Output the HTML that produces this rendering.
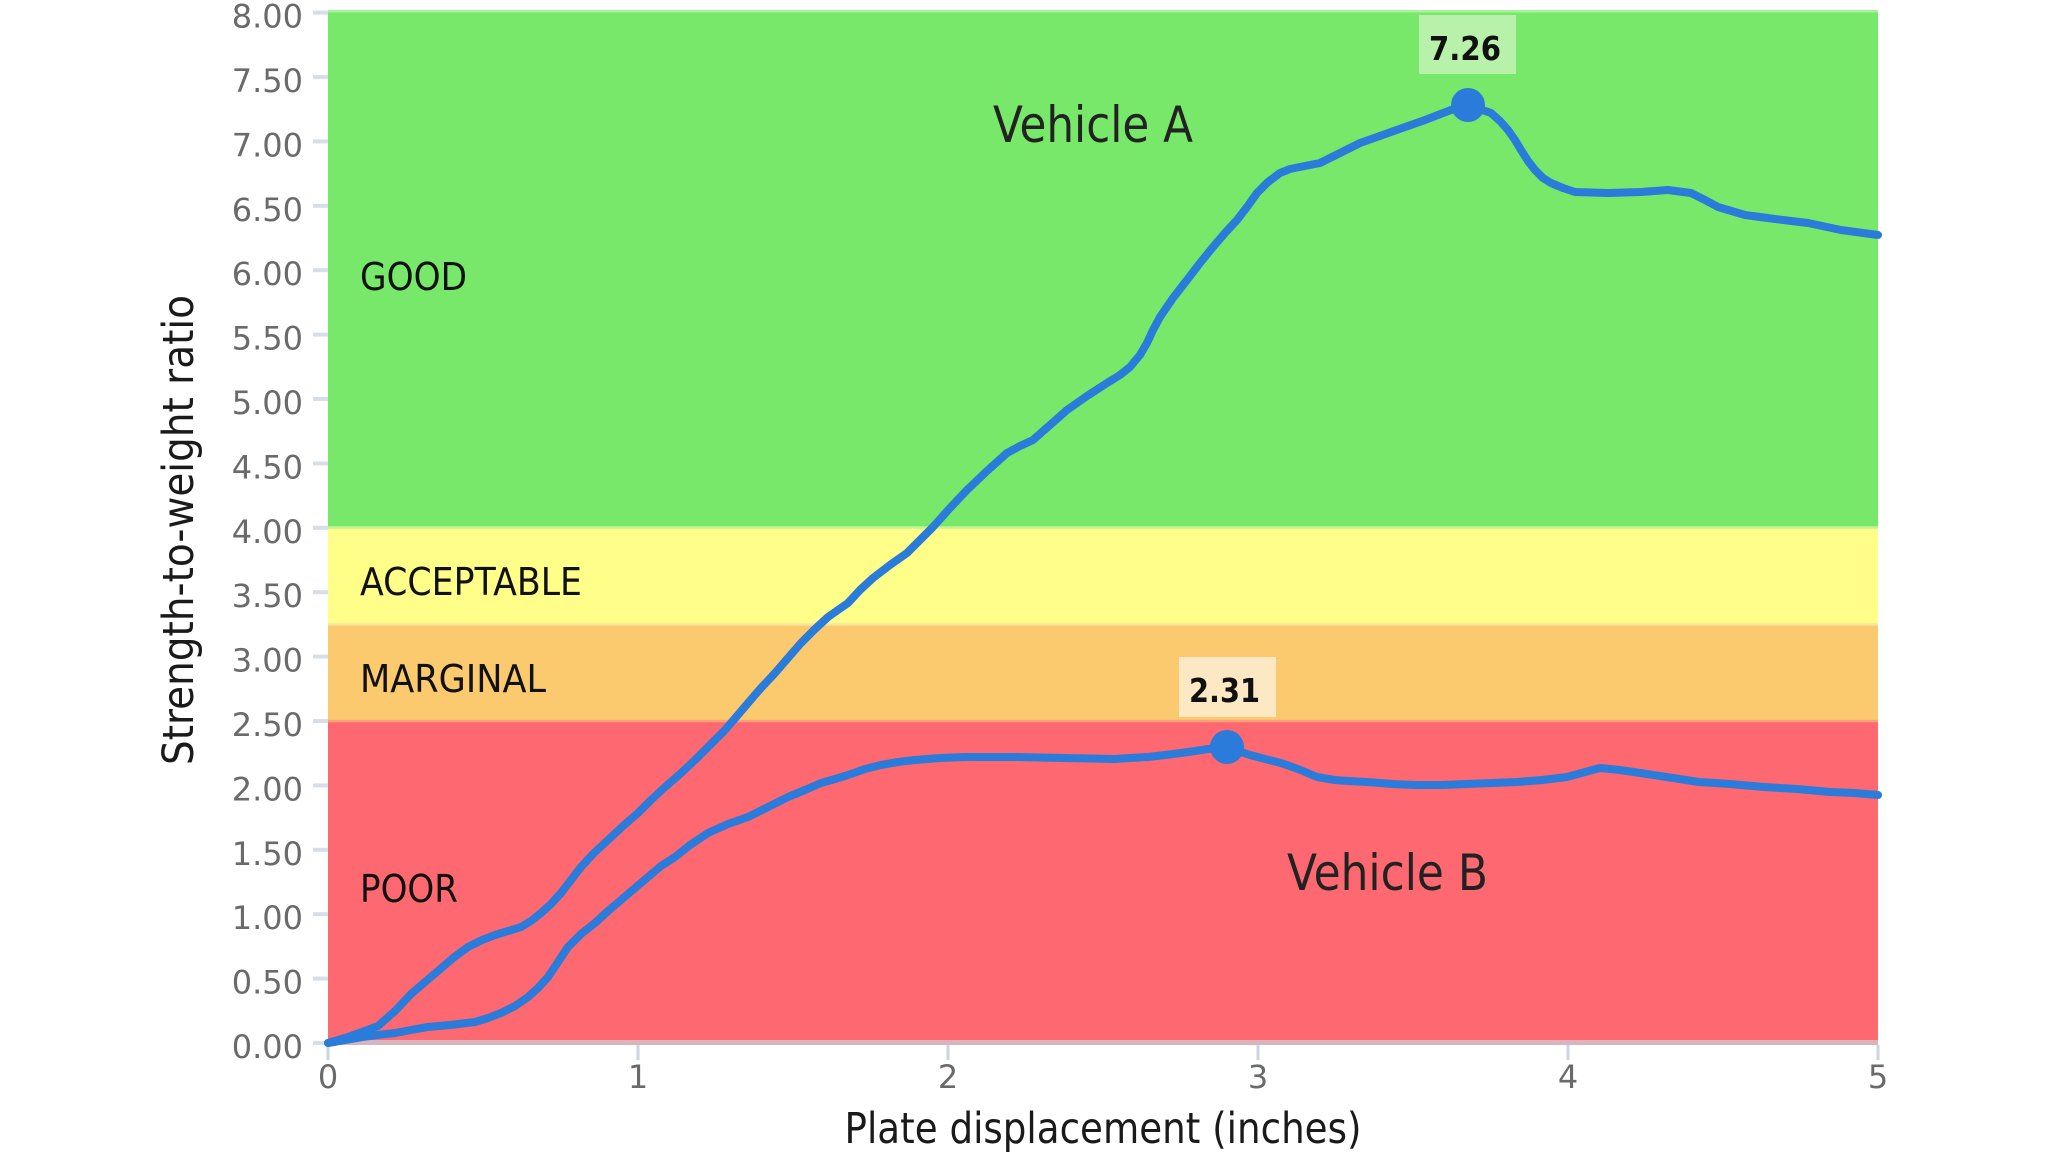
<!DOCTYPE html>
<html>
<head>
<meta charset="utf-8">
<style>
  html, body { margin:0; padding:0; background:#ffffff; }
  svg { display:block; }
  .tick { font-family: "DejaVu Sans", "Liberation Sans", sans-serif; font-size:32px; fill:#6a6a6a; }
  .band { font-family: "DejaVu Sans", "Liberation Sans", sans-serif; font-size:38px; fill:#111111; }
  .veh { font-family: "DejaVu Sans", "Liberation Sans", sans-serif; font-size:50px; fill:#222222; }
  .ann { font-family: "DejaVu Sans", "Liberation Sans", sans-serif; font-size:33px; font-weight:bold; fill:#111111; }
  .axt { font-family: "DejaVu Sans", "Liberation Sans", sans-serif; font-size:43px; fill:#1a1a1a; }
</style>
</head>
<body>
<svg width="2048" height="1152" viewBox="0 0 2048 1152" xmlns="http://www.w3.org/2000/svg">
  <rect x="0" y="0" width="2048" height="1152" fill="#ffffff"/>

  <!-- bands -->
  <rect x="328" y="10" width="1550" height="518" fill="#77e86a"/>
  <rect x="328" y="10" width="1550" height="2.5" fill="#a9f09c"/>
  <rect x="328" y="527.8" width="1550" height="96.6" fill="#fefe88"/>
  <rect x="328" y="624.4" width="1550" height="96.6" fill="#fcca6e"/>
  <rect x="328" y="721" width="1550" height="320" fill="#fe6870"/>
  <!-- band boundary lines -->
  <rect x="328" y="526.3" width="1550" height="2.5" fill="#c6f58f"/>
  <rect x="328" y="623.2" width="1550" height="2.5" fill="#fde49a"/>
  <rect x="328" y="719.8" width="1550" height="2.5" fill="#fca07c"/>
  <!-- x axis line -->
  <rect x="328" y="1040" width="1550" height="5" fill="#d9b4bc"/>

  <!-- y ticks -->
  <g fill="#d6dee7">
    <rect x="313" y="1041" width="15" height="4"/>
    <rect x="313" y="976.6" width="15" height="4"/>
    <rect x="313" y="912.2" width="15" height="4"/>
    <rect x="313" y="847.8" width="15" height="4"/>
    <rect x="313" y="783.4" width="15" height="4"/>
    <rect x="313" y="719" width="15" height="4"/>
    <rect x="313" y="654.6" width="15" height="4"/>
    <rect x="313" y="590.2" width="15" height="4"/>
    <rect x="313" y="525.8" width="15" height="4"/>
    <rect x="313" y="461.4" width="15" height="4"/>
    <rect x="313" y="397" width="15" height="4"/>
    <rect x="313" y="332.6" width="15" height="4"/>
    <rect x="313" y="268.2" width="15" height="4"/>
    <rect x="313" y="203.8" width="15" height="4"/>
    <rect x="313" y="139.4" width="15" height="4"/>
    <rect x="313" y="75" width="15" height="4"/>
    <rect x="313" y="10.6" width="15" height="4"/>
  </g>
  <!-- y tick labels -->
  <g class="tick" text-anchor="end">
    <text x="303" y="1058">0.00</text>
    <text x="303" y="993.6">0.50</text>
    <text x="303" y="929.2">1.00</text>
    <text x="303" y="864.8">1.50</text>
    <text x="303" y="800.4">2.00</text>
    <text x="303" y="736">2.50</text>
    <text x="303" y="671.6">3.00</text>
    <text x="303" y="607.2">3.50</text>
    <text x="303" y="542.8">4.00</text>
    <text x="303" y="478.4">4.50</text>
    <text x="303" y="414">5.00</text>
    <text x="303" y="349.6">5.50</text>
    <text x="303" y="285.2">6.00</text>
    <text x="303" y="220.8">6.50</text>
    <text x="303" y="156.4">7.00</text>
    <text x="303" y="92">7.50</text>
    <text x="303" y="27.6">8.00</text>
  </g>

  <!-- x ticks -->
  <g fill="#c9d5df">
    <rect x="326.5" y="1045" width="3" height="15"/>
    <rect x="636.5" y="1045" width="3" height="15"/>
    <rect x="946.5" y="1045" width="3" height="15"/>
    <rect x="1256.5" y="1045" width="3" height="15"/>
    <rect x="1566.5" y="1045" width="3" height="15"/>
    <rect x="1876.5" y="1045" width="3" height="15"/>
  </g>
  <g class="tick" text-anchor="middle">
    <text x="328" y="1088">0</text>
    <text x="638" y="1088">1</text>
    <text x="948" y="1088">2</text>
    <text x="1258" y="1088">3</text>
    <text x="1568" y="1088">4</text>
    <text x="1878" y="1088">5</text>
  </g>

  <!-- band labels -->
  <text class="band" x="360" y="290" textLength="107" lengthAdjust="spacingAndGlyphs">GOOD</text>
  <text class="band" x="360" y="595" textLength="222" lengthAdjust="spacingAndGlyphs">ACCEPTABLE</text>
  <text class="band" x="360" y="692" textLength="186" lengthAdjust="spacingAndGlyphs">MARGINAL</text>
  <text class="band" x="360" y="902" textLength="98" lengthAdjust="spacingAndGlyphs">POOR</text>

  <!-- vehicle labels -->
  <text class="veh" x="993" y="142" textLength="200" lengthAdjust="spacingAndGlyphs">Vehicle A</text>
  <text class="veh" x="1287" y="890" textLength="201" lengthAdjust="spacingAndGlyphs">Vehicle B</text>

  <!-- curves -->
  <g fill="none" stroke="#2a7bda" stroke-width="8" stroke-linejoin="round" stroke-linecap="round">
    <polyline points="328,1043 345,1038 362,1032 378,1026 395,1011 411,994 425,982 438,971 453,958 468,947 482,940 495,935 508,931 521,927 531,921 541,913 551,904 561,893 571,880 581,867 594,853 608,840 623,826 638,813 651,800 665,787 680,774 695,760 710,745 725,730 737,716 748,703 761,688 775,673 788,658 801,643 815,629 828,617 838,610 848,603 860,590 873,578 890,565 907,553 920,540 933,527 950,508 967,490 987,471 1007,453 1020,446 1033,440 1050,425 1067,410 1087,396 1107,383 1120,375 1130,367 1140,355 1147,343 1153,330 1160,317 1173,298 1187,280 1200,263 1213,247 1225,233 1237,220 1247,207 1257,193 1268,182 1280,173 1290,169 1300,167 1310,165 1320,163 1330,158 1340,153 1350,148 1360,143 1391,132 1425,120 1451,110 1468,105 1491,113 1500,121 1508,130 1515,140 1521,150 1528,161 1535,170 1543,178 1551,183 1563,188 1575,192 1608,193 1641,192 1668,190 1691,193 1705,200 1718,207 1745,215 1775,219 1808,223 1841,230 1878,235"/>
    <polyline points="328,1043 345,1040 362,1037 378,1035 395,1033 411,1030 428,1027 450,1025 475,1022 488,1018 501,1013 515,1006 528,997 538,988 548,977 558,962 568,947 581,934 595,923 608,911 621,900 635,888 648,877 661,866 675,857 690,845 708,833 728,824 748,817 768,807 788,797 805,790 821,783 835,779 848,775 865,769 881,765 898,762 915,760 940,758 965,757 990,757 1015,757 1040,757.5 1065,758 1090,758.5 1115,759 1130,758 1148,757 1165,755 1181,753 1195,751 1208,749 1227,747 1238,751 1250,755 1265,759 1281,763 1298,769 1317,777 1335,780 1348,781 1367,782 1392,784 1417,785 1442,785 1467,784 1492,783 1517,782 1542,780 1567,777 1585,772 1600,768 1620,770 1647,774 1673,778 1699,782 1730,784 1764,787 1797,789 1830,792 1855,793 1878,795"/>
  </g>

  <!-- markers -->
  <circle cx="1468" cy="105" r="17" fill="#2a7bda"/>
  <circle cx="1227" cy="747" r="17" fill="#2a7bda"/>

  <!-- annotation boxes -->
  <rect x="1419" y="15" width="97" height="59" fill="#b8f2aa"/>
  <text class="ann" x="1429" y="60" textLength="72" lengthAdjust="spacingAndGlyphs">7.26</text>
  <rect x="1179" y="657" width="97" height="60" fill="#fde8c4"/>
  <text class="ann" x="1189" y="702" textLength="71" lengthAdjust="spacingAndGlyphs">2.31</text>

  <!-- axis titles -->
  <text class="axt" x="1103" y="1143" text-anchor="middle" textLength="517" lengthAdjust="spacingAndGlyphs">Plate displacement (inches)</text>
  <text class="axt" x="0" y="0" text-anchor="middle" textLength="470" lengthAdjust="spacingAndGlyphs" transform="translate(193,530) rotate(-90)">Strength-to-weight ratio</text>
</svg>
</body>
</html>
